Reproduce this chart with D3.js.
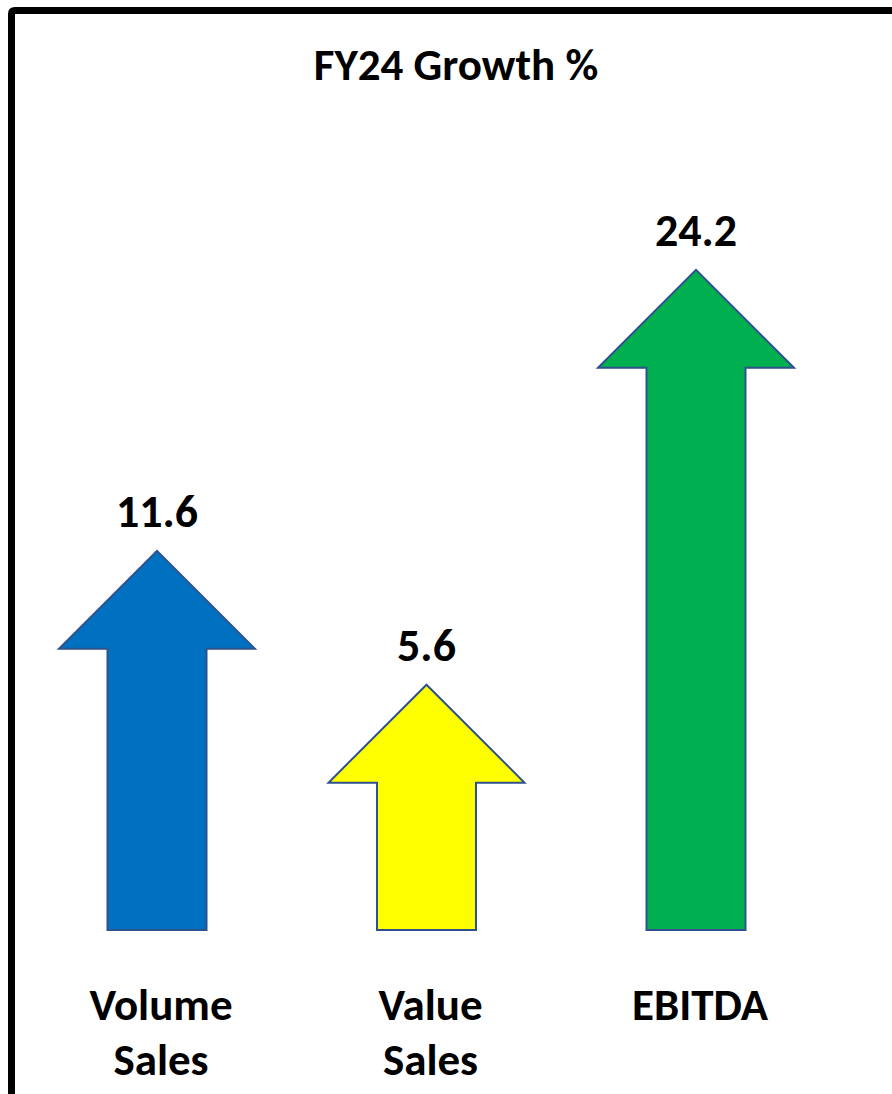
<!DOCTYPE html>
<html>
<head>
<meta charset="utf-8">
<script src="https://cdn.jsdelivr.net/npm/d3@7"></script>
<style>
  html, body { margin: 0; padding: 0; background: #fff; }
  svg { display: block; }
</style>
</head>
<body>
<div id="wrap"></div>
<script>
// data
const categories = ["Volume Sales", "Value Sales", "EBITDA"];
const labelLines = [["Volume", "Sales"], ["Value", "Sales"], ["EBITDA"]];
const values = [11.6, 5.6, 24.2];
const colors = ["#0070C0", "#FFFF00", "#00B050"];
const title = "FY24 Growth %";

chart()
function chart(){
  const WIDTH = 892;
  const HEIGHT = 1094;
  const FONT = "Carlito, Lato, 'Open Sans', sans-serif";

  const svg = d3.select('#wrap')
    .append('svg')
    .attr('width', WIDTH)
    .attr('height', HEIGHT)
    .style('background', '#FFFFFF');

  // 外框 (top + left only, the rest is cropped)
  svg.append('path')
    .attr('d', 'M11.5,' + HEIGHT + ' L11.5,14 Q11.5,10.5 15,10.5 L' + WIDTH + ',10.5')
    .attr('fill', 'none')
    .attr('stroke', '#000')
    .attr('stroke-width', 7);

  // 标题
  svg.append('text')
    .attr('x', 456)
    .attr('y', 80)
    .attr('text-anchor', 'middle')
    .style('font-family', FONT)
    .style('font-weight', 'bold')
    .style('font-size', '45px')
    .text(title);

  // x scale: arrow centers
  const xScale = d3.scalePoint()
    .domain(categories)
    .range([157, 696]);

  // y scale: arrow tip height
  const yScale = d3.scaleLinear()
    .domain([-5.4, 25])
    .range([930, 252]);

  const headW = 196, shaftW = 99, headH = 98;
  const base = yScale(-5.4);

  function arrowPath(d, i){
    const cx = xScale(categories[i]);
    const tip = yScale(d);
    const hb = tip + headH;
    return [
      'M', cx - shaftW / 2, base,
      'L', cx - shaftW / 2, hb,
      'L', cx - headW / 2, hb,
      'L', cx, tip,
      'L', cx + headW / 2, hb,
      'L', cx + shaftW / 2, hb,
      'L', cx + shaftW / 2, base, 'Z'
    ].join(' ');
  }

  svg.append('g').attr('id', 'arrows')
    .selectAll('path')
    .data(values)
    .enter()
    .append('path')
    .attr('d', arrowPath)
    .attr('fill', (d, i) => colors[i])
    .attr('stroke', '#2F528F')
    .attr('stroke-width', 2)
    .attr('stroke-linejoin', 'miter');

  // 数值标签
  svg.append('g').attr('id', 'values')
    .selectAll('text')
    .data(values)
    .enter()
    .append('text')
    .attr('x', (d, i) => xScale(categories[i]))
    .attr('y', d => yScale(d) - 24)
    .attr('text-anchor', 'middle')
    .style('font-family', FONT)
    .style('font-weight', 'bold')
    .style('font-size', '46px')
    .text(d => d.toFixed(1));

  // 类别标签
  const cat = svg.append('g').attr('id', 'categories')
    .selectAll('text')
    .data(labelLines)
    .enter()
    .append('text')
    .attr('x', (d, i) => xScale(categories[i]) + 4)
    .attr('y', 1020)
    .attr('text-anchor', 'middle')
    .style('font-family', FONT)
    .style('font-weight', 'bold')
    .style('font-size', '45px');

  cat.selectAll('tspan')
    .data(d => d)
    .enter()
    .append('tspan')
    .attr('x', function(){ return d3.select(this.parentNode).attr('x'); })
    .attr('dy', (d, i) => i === 0 ? 0 : 55)
    .text(d => d);
}
</script>
</body>
</html>
